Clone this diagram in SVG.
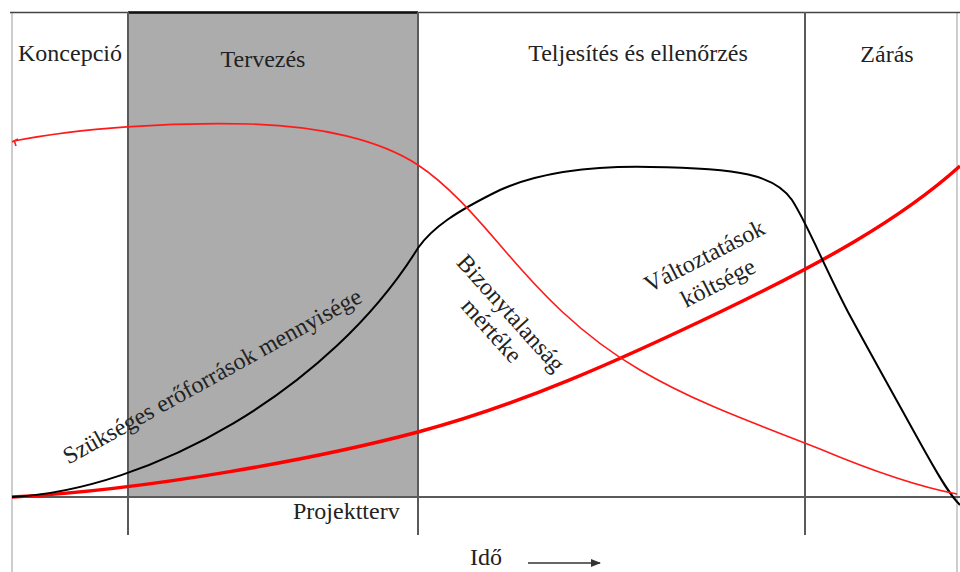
<svg xmlns="http://www.w3.org/2000/svg" width="960" height="572" viewBox="0 0 960 572">
  <style>
    .lbl { font-family: "Liberation Serif", "Times New Roman", serif; font-size: 24px; fill: #222; }
    .mid { text-anchor: middle; }
    .frame { stroke: #bdbdbd; stroke-width: 1.5; fill: none; }
    .divider { stroke: #5a5a5a; stroke-width: 2; fill: none; }
    .resource { stroke: #000; stroke-width: 2; fill: none; }
    .uncert { stroke: #ff1a1a; stroke-width: 1.6; fill: none; }
    .cost { stroke: #ff0000; stroke-width: 3.5; fill: none; }
  </style>
  <defs>
    <marker id="arrowHead" markerWidth="10" markerHeight="8" refX="9" refY="4" orient="auto" markerUnits="userSpaceOnUse">
      <path d="M0,0 L10,4 L0,8 Z" fill="#333"/>
    </marker>
  </defs>

  <rect width="960" height="572" fill="#fff"/>

  <!-- phase areas -->
  <g id="phase-tervezes">
    <rect x="128" y="12" width="290" height="485" fill="#acacac"/>
  </g>

  <!-- frame and grid lines -->
  <g id="frame">
    <line class="frame" x1="12" y1="12" x2="12" y2="572"/>
    <line class="frame" x1="957" y1="12" x2="957" y2="572"/>
    <line x1="10" y1="12.5" x2="960" y2="12.5" stroke="#444" stroke-width="1.5"/>
    <line x1="128" y1="12.5" x2="418" y2="12.5" stroke="#111" stroke-width="2.5"/>
    <line class="divider" x1="128" y1="12" x2="128" y2="535"/>
    <line class="divider" x1="418" y1="12" x2="418" y2="535"/>
    <line class="divider" x1="805" y1="12" x2="805" y2="535"/>
    <line class="divider" x1="12" y1="497" x2="960" y2="497"/>
  </g>

  <!-- curves -->
  <g id="connectors">
    <path id="cost-curve" class="cost" d="M12,497 C150,490 320,458 418,432 C520,405 620,360 720,312 C820,264 900,220 960,166"/>
    <path id="resource-curve" class="resource" d="M12,497 C150,490 330,390 418,248 C432,228 455,212 500,190 C545,170 600,166 650,167 C740,168 775,175 792,200 C808,225 822,262 848,312 C874,360 902,410 927,455 C941,480 950,495 960,505"/>
    <path id="uncertainty-curve" class="uncert" d="M14,141 C80,128 170,122 250,124 C320,126 380,140 418,165 C450,186 480,222 500,245 C540,292 580,335 640,370 C700,405 760,425 820,449 C870,470 920,487 957,494"/>
    <path class="uncert" d="M12,142 L18,139 M14,140 L16,146"/>
    <line x1="528" y1="563" x2="600" y2="563" stroke="#333" stroke-width="1.5" marker-end="url(#arrowHead)"/>
  </g>

  <!-- phase titles -->
  <g id="phase-labels">
    <text class="lbl" x="18" y="61">Koncepció</text>
    <text class="lbl mid" x="263" y="67">Tervezés</text>
    <text class="lbl mid" x="638" y="61">Teljesítés és ellenőrzés</text>
    <text class="lbl mid" x="887" y="62">Zárás</text>
  </g>

  <!-- curve labels -->
  <g id="label-resource">
    <text class="lbl mid" transform="translate(216,383) rotate(-29)">Szükséges erőforrások mennyisége</text>
  </g>
  <g id="label-uncertainty" transform="translate(511,313) rotate(48)">
    <text class="lbl mid" x="0" y="8">Bizonytalanság</text>
    <text class="lbl mid" x="0" y="34">mértéke</text>
  </g>
  <g id="label-cost" transform="translate(708,263) rotate(-27)">
    <text class="lbl mid" x="0" y="0">Változtatások</text>
    <text class="lbl mid" x="0" y="30">költsége</text>
  </g>

  <!-- axis labels -->
  <g id="axis-labels">
    <text class="lbl" x="293" y="519">Projektterv</text>
    <text class="lbl" x="470" y="565">Idő</text>
  </g>
</svg>
